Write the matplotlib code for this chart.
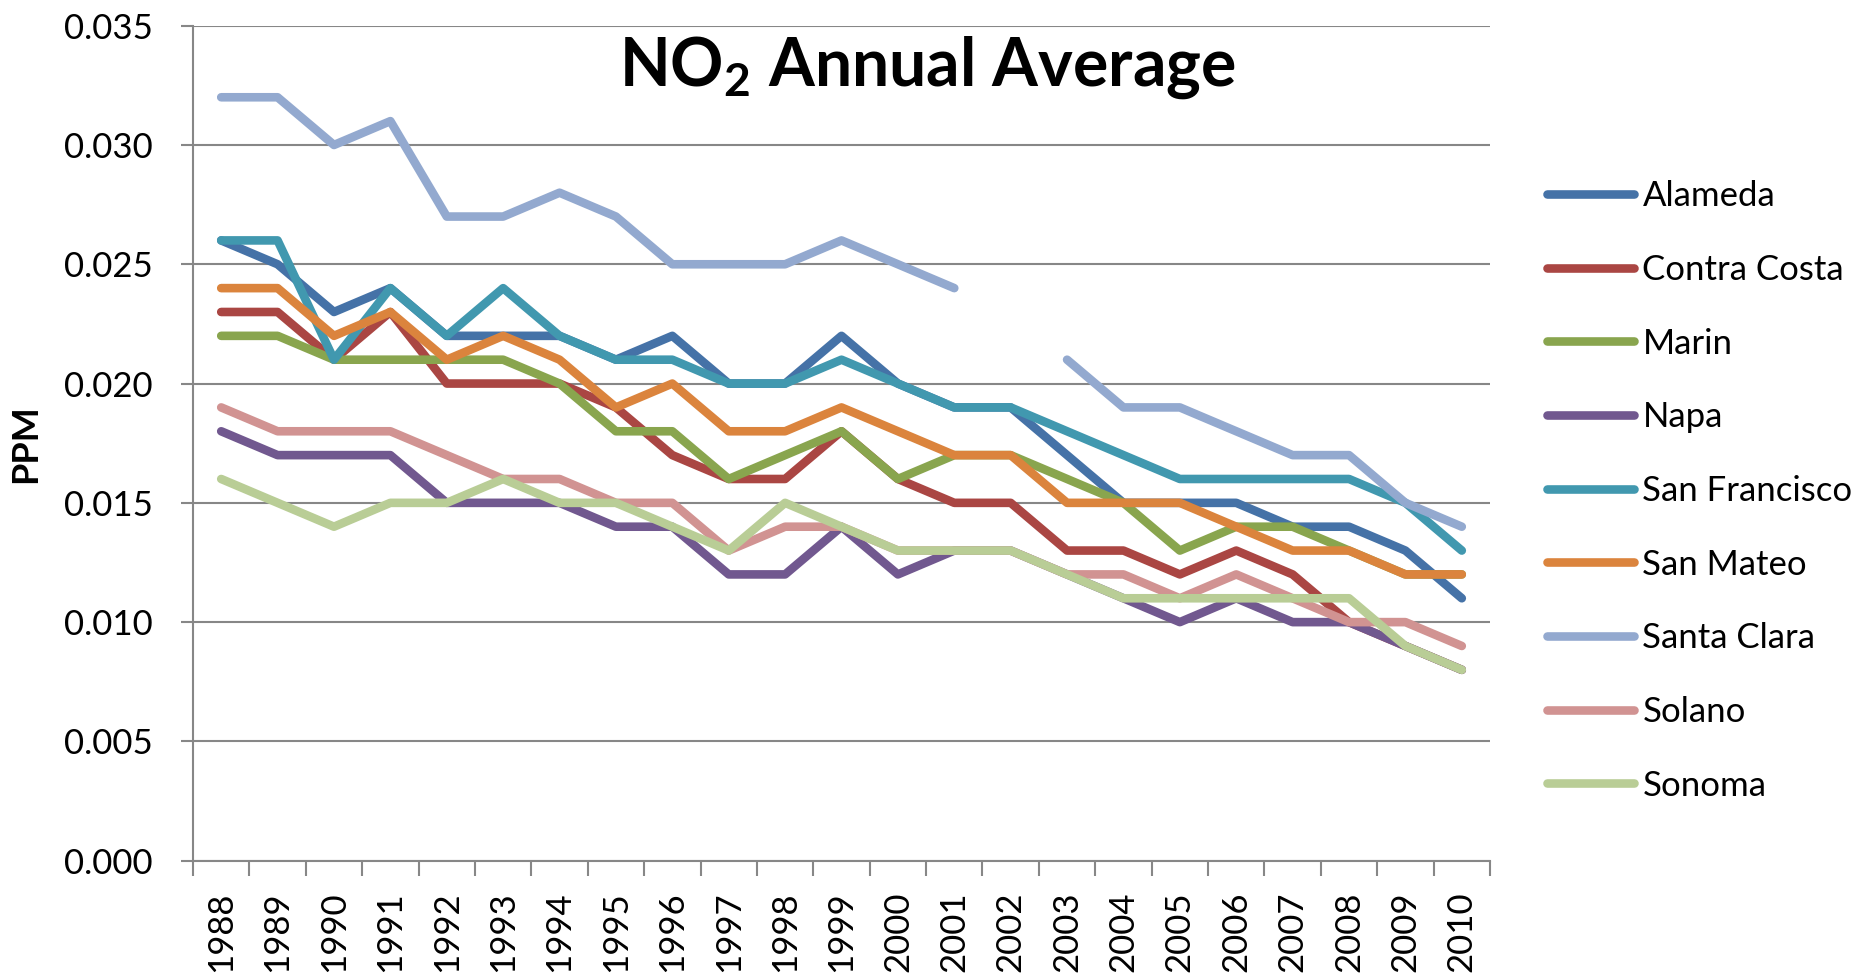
import numpy as np
import matplotlib
matplotlib.use("Agg")
import matplotlib.pyplot as plt

plt.rcParams["font.family"] = ["Lato", "DejaVu Sans"]
plt.rcParams["mathtext.fontset"] = "custom"
plt.rcParams["mathtext.rm"] = "Lato"
plt.rcParams["mathtext.bf"] = "Lato:bold"

years = list(range(1988, 2011))
nan = np.nan

alameda = [0.026, 0.025, 0.023, 0.024, 0.022, 0.022, 0.022, 0.021, 0.022, 0.020, 0.020, 0.022,
           0.020, 0.019, 0.019, 0.017, 0.015, 0.015, 0.015, 0.014, 0.014, 0.013, 0.011]
contra_costa = [0.023, 0.023, 0.021, 0.023, 0.020, 0.020, 0.020, 0.019, 0.017, 0.016, 0.016, 0.018,
                0.016, 0.015, 0.015, 0.013, 0.013, 0.012, 0.013, 0.012, 0.010, 0.009, 0.008]
marin = [0.022, 0.022, 0.021, 0.021, 0.021, 0.021, 0.020, 0.018, 0.018, 0.016, 0.017, 0.018,
         0.016, 0.017, 0.017, 0.016, 0.015, 0.013, 0.014, 0.014, 0.013, 0.012, 0.012]
napa = [0.018, 0.017, 0.017, 0.017, 0.015, 0.015, 0.015, 0.014, 0.014, 0.012, 0.012, 0.014,
        0.012, 0.013, 0.013, 0.012, 0.011, 0.010, 0.011, 0.010, 0.010, 0.009, 0.008]
san_francisco = [0.026, 0.026, 0.021, 0.024, 0.022, 0.024, 0.022, 0.021, 0.021, 0.020, 0.020, 0.021,
                 0.020, 0.019, 0.019, 0.018, 0.017, 0.016, 0.016, 0.016, 0.016, 0.015, 0.013]
san_mateo = [0.024, 0.024, 0.022, 0.023, 0.021, 0.022, 0.021, 0.019, 0.020, 0.018, 0.018, 0.019,
             0.018, 0.017, 0.017, 0.015, 0.015, 0.015, 0.014, 0.013, 0.013, 0.012, 0.012]
santa_clara = [0.032, 0.032, 0.030, 0.031, 0.027, 0.027, 0.028, 0.027, 0.025, 0.025, 0.025, 0.026,
               0.025, 0.024, nan, 0.021, 0.019, 0.019, 0.018, 0.017, 0.017, 0.015, 0.014]
solano = [0.019, 0.018, 0.018, 0.018, 0.017, 0.016, 0.016, 0.015, 0.015, 0.013, 0.014, 0.014,
          0.013, 0.013, 0.013, 0.012, 0.012, 0.011, 0.012, 0.011, 0.010, 0.010, 0.009]
sonoma = [0.016, 0.015, 0.014, 0.015, 0.015, 0.016, 0.015, 0.015, 0.014, 0.013, 0.015, 0.014,
          0.013, 0.013, 0.013, 0.012, 0.011, 0.011, 0.011, 0.011, 0.011, 0.009, 0.008]

names = ["Alameda", "Contra Costa", "Marin", "Napa", "San Francisco", "San Mateo",
         "Santa Clara", "Solano", "Sonoma"]
series = [alameda, contra_costa, marin, napa, san_francisco, san_mateo, santa_clara, solano, sonoma]
colors = ["#4572A7", "#AA4643", "#89A54E", "#71588F", "#4198AF", "#DB843D",
          "#93A9CF", "#D19392", "#B9CD96"]

GRID = "#878787"
FS = 25

fig = plt.figure(figsize=(18.66, 9.76), dpi=100)
ax = fig.add_axes([0.10343, 0.11813, 0.79850 - 0.10343, 0.97367 - 0.11813])

x = np.arange(len(years))
for vals, name, c in zip(series, names, colors):
    ax.plot(x, vals, color=c, lw=6.2, label=name,
            solid_capstyle="round", solid_joinstyle="round")

ax.set_xlim(-0.5, len(years) - 0.5)
ax.set_ylim(0, 0.035)
ax.set_yticks(np.arange(0, 0.0351, 0.005))
ax.set_yticklabels([f"{v:.3f}" for v in np.arange(0, 0.0351, 0.005)])
ax.yaxis.grid(True, color=GRID, lw=1.5)
ax.set_axisbelow(True)

# Excel-style category axis: tick marks between categories, labels at centres
ax.set_xticks(np.arange(-0.5, len(years)), labels=[""] * (len(years) + 1))
ax.set_xticks(x, labels=[str(y) for y in years], minor=True)
ax.tick_params(axis="x", which="major", length=11, width=1.5, color=GRID, direction="out")
ax.tick_params(axis="x", which="minor", length=0, pad=22, labelsize=FS, labelrotation=90)
ax.tick_params(axis="y", length=9, width=1.5, color=GRID, pad=20, labelsize=FS)

for s in ["top", "right"]:
    ax.spines[s].set_visible(False)
for s in ["left", "bottom"]:
    ax.spines[s].set_color(GRID)
    ax.spines[s].set_linewidth(1.5)

ax.set_ylabel("PPM", fontsize=26, fontweight="bold", labelpad=0)
ax.yaxis.set_label_coords(-0.1164, 0.5)

fig.text(0.4968, 0.9119, r"NO$_\mathbf{2}$ Annual Average", ha="center", va="baseline",
         fontsize=47.5, fontweight="bold")

leg = ax.legend(loc="center left", bbox_to_anchor=(1547 / 1866, 0.497),
                bbox_transform=fig.transFigure, frameon=False, fontsize=FS,
                borderpad=0, borderaxespad=0, handlelength=2.5, handletextpad=0.25,
                labelspacing=1.2)
for h in leg.get_lines():
    h.set_solid_capstyle("round")

fig.savefig("out.png", dpi=100)
